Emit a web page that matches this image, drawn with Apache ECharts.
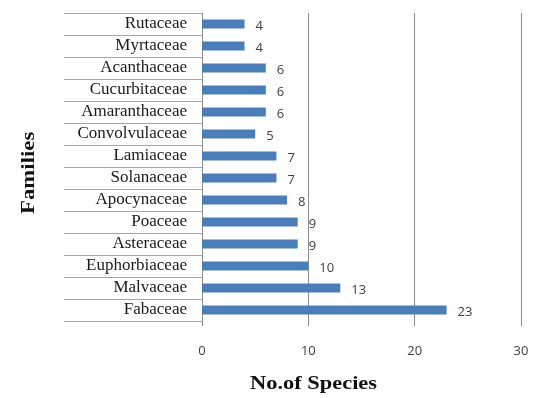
<!DOCTYPE html>
<html>
<head>
<meta charset="utf-8">
<script src="https://cdn.jsdelivr.net/npm/echarts@6/dist/echarts.min.js"></script>
<style>
  html, body { margin: 0; padding: 0; background: #ffffff; }
  #chart { width: 537px; height: 398px; }
</style>
</head>
<body>
<div id="chart"></div>
<script>
// Plant families, listed bottom to top along the category axis
const families = [
  'Fabaceae', 'Malvaceae', 'Euphorbiaceae', 'Asteraceae', 'Poaceae',
  'Apocynaceae', 'Solanaceae', 'Lamiaceae', 'Convolvulaceae',
  'Amaranthaceae', 'Cucurbitaceae', 'Acanthaceae', 'Myrtaceae', 'Rutaceae'
];
// Number of species recorded in each family
const speciesCount = [23, 13, 10, 9, 9, 8, 7, 7, 5, 6, 6, 6, 4, 4];
// Value axis ticks
const xTicks = [0, 10, 20, 30];

const titleFont = 'bold 19px "Liberation Serif", "Times New Roman", serif';

const chart = echarts.init(document.getElementById('chart'), null, { renderer: 'canvas' });

chart.setOption({
  backgroundColor: '#ffffff',
  animation: false,
  grid: { left: 202, top: 13, right: 16, bottom: 77, containLabel: false },
  xAxis: {
    type: 'value',
    min: xTicks[0],
    max: xTicks[xTicks.length - 1],
    interval: xTicks[1] - xTicks[0],
    axisLine: { show: false },
    axisTick: { show: true, length: 5, lineStyle: { color: '#8c8c8c' } },
    splitLine: { show: true, lineStyle: { color: '#8c8c8c', width: 1 } },
    axisLabel: {
      margin: 24,
      color: '#404040',
      fontFamily: 'Open Sans, Noto Sans, sans-serif',
      fontSize: 13
    }
  },
  yAxis: {
    type: 'category',
    data: families,
    axisLine: { show: true, lineStyle: { color: '#8c8c8c' } },
    axisTick: { show: true, interval: 0, length: 138, lineStyle: { color: '#a6a6a6' } },
    axisLabel: {
      interval: 0,
      margin: 15,
      color: '#1a1a1a',
      fontFamily: 'Liberation Serif, Times New Roman, serif',
      fontSize: 17
    }
  },
  graphic: [
    {
      // vertical axis title
      type: 'text',
      x: 29,
      y: 214,
      rotation: Math.PI / 2,
      scaleX: 1.2,
      style: {
        text: 'Families',
        fill: '#111111',
        font: titleFont,
        align: 'left',
        verticalAlign: 'middle'
      }
    },
    {
      // horizontal axis title
      type: 'text',
      x: 250,
      y: 384,
      scaleX: 1.18,
      style: {
        text: 'No.of Species',
        fill: '#111111',
        font: titleFont,
        align: 'left',
        verticalAlign: 'middle'
      }
    }
  ],
  series: [{
    type: 'bar',
    data: speciesCount,
    barWidth: 9,
    itemStyle: { color: '#4a7ebb' },
    label: {
      show: true,
      position: 'right',
      distance: 11,
      offset: [0, 2],
      color: '#404040',
      fontFamily: 'Open Sans, Noto Sans, sans-serif',
      fontSize: 13
    }
  }]
});
</script>
</body>
</html>
